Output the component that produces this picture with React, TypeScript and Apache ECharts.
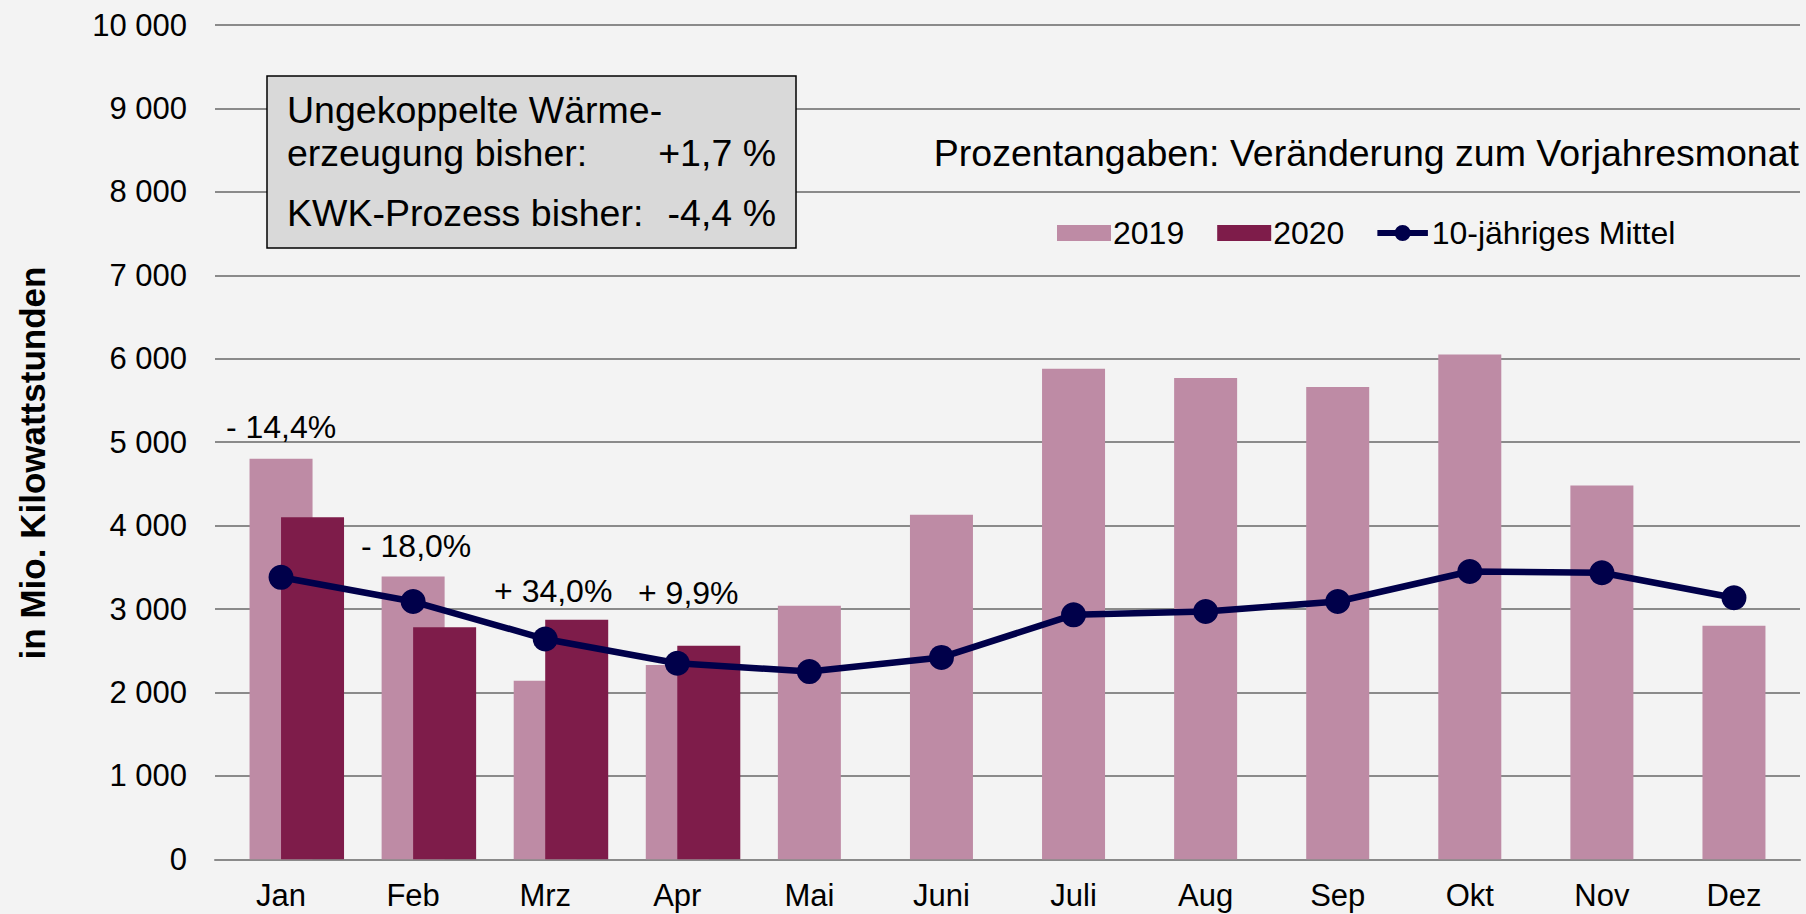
import React, { useEffect, useRef } from "react";
import * as echarts from "echarts";

const months = ["Jan", "Feb", "Mrz", "Apr", "Mai", "Juni", "Juli", "Aug", "Sep", "Okt", "Nov", "Dez"];
const values2019 = [4800, 3390, 2140, 2330, 3040, 4130, 5880, 5770, 5660, 6050, 4480, 2800];
const values2020 = [4100, 2780, 2870, 2560, null, null, null, null, null, null, null, null];
const tenYearMean = [3380, 3090, 2640, 2350, 2250, 2420, 2930, 2970, 3090, 3450, 3435, 3135];
const changeLabels = ["- 14,4%", "- 18,0%", "+ 34,0%", "+ 9,9%"];
const yTicks = { min: 0, max: 10000, interval: 1000 };

const FONT = "'Liberation Sans', Arial, Helvetica, sans-serif";
const C2019 = "#BE8BA5";
const C2020 = "#7E1C4A";
const CLINE = "#00004A";

const labelOffsets: number[][] = [[0, -16], [3, -14], [8, -74], [11, -56]];

const LINE_ICON =
  "path://M0,6 H60 V13 H0 Z M20.5,9.5 A9.5,9.5 0 1 1 39.5,9.5 A9.5,9.5 0 1 1 20.5,9.5 Z";

export default function App() {
  const ref = useRef<HTMLDivElement>(null);
  useEffect(() => {
    if (!ref.current) return;
    const chart = echarts.init(ref.current, null, { renderer: "svg" });
    const data2019 = values2019.map((v, i) =>
      i < changeLabels.length
        ? {
            value: v,
            label: {
              show: true,
              position: "top",
              distance: 0,
              formatter: changeLabels[i],
              offset: labelOffsets[i],
              fontSize: 32,
              fontFamily: FONT,
              color: "#000",
            },
          }
        : v
    );
    const boxFont = `37.5px ${FONT}`;
    chart.setOption({
      animation: false,
      backgroundColor: "#F3F3F3",
      textStyle: { fontFamily: FONT },
      grid: { left: 215, right: 6, top: 25, bottom: 54.7, containLabel: false },
      legend: {
        data: [
          { name: "2019", icon: "rect" },
          { name: "2020", icon: "rect" },
          { name: "10-jähriges Mittel", icon: LINE_ICON, itemStyle: { color: CLINE } },
        ],
        left: 1052,
        top: 212,
        itemWidth: 54,
        itemHeight: 16,
        itemGap: 33,
        textStyle: { fontSize: 32, color: "#000", fontFamily: FONT, padding: [0, 0, 0, -3] },
      },
      xAxis: {
        type: "category",
        data: months,
        axisTick: { show: false },
        axisLine: { show: true, lineStyle: { color: "#8A8A8A", width: 2 } },
        axisLabel: { fontSize: 31, lineHeight: 28, color: "#000", fontFamily: FONT, margin: 22 },
      },
      yAxis: {
        type: "value",
        min: yTicks.min,
        max: yTicks.max,
        interval: yTicks.interval,
        axisLine: { show: false },
        axisTick: { show: false },
        splitLine: { lineStyle: { color: "#8A8A8A", width: 2 } },
        axisLabel: {
          fontSize: 31,
          color: "#000",
          fontFamily: FONT,
          margin: 28,
          formatter: (v: number) => String(v).replace(/\B(?=(\d{3})+(?!\d))/g, " "),
        },
      },
      series: [
        { name: "_spacer", type: "bar", data: [], barWidth: 63, barGap: "-50%", silent: true },
        {
          name: "2019",
          type: "bar",
          data: data2019,
          barWidth: 63,
          barGap: "-50%",
          itemStyle: { color: C2019 },
        },
        {
          name: "2020",
          type: "bar",
          data: values2020,
          barWidth: 63,
          barGap: "-50%",
          itemStyle: { color: C2020 },
        },
        {
          name: "10-jähriges Mittel",
          type: "line",
          data: tenYearMean,
          symbol: "circle",
          symbolSize: 25,
          lineStyle: { color: CLINE, width: 6.5 },
          itemStyle: { color: CLINE },
          z: 5,
        },
      ],
      graphic: [
        {
          type: "rect",
          shape: { x: 267, y: 76, width: 529, height: 172 },
          style: { fill: "#D9D9D9", stroke: "#000", lineWidth: 1.5 },
          z: 10,
        },
        {
          type: "text",
          x: 287,
          y: 110,
          style: { text: "Ungekoppelte Wärme-", font: boxFont, fill: "#000", verticalAlign: "middle" },
          z: 11,
        },
        {
          type: "text",
          x: 287,
          y: 153,
          style: { text: "erzeugung bisher:", font: boxFont, fill: "#000", verticalAlign: "middle" },
          z: 11,
        },
        {
          type: "text",
          x: 776,
          y: 153,
          style: { text: "+1,7 %", font: boxFont, fill: "#000", align: "right", verticalAlign: "middle" },
          z: 11,
        },
        {
          type: "text",
          x: 287,
          y: 213,
          style: { text: "KWK-Prozess bisher:", font: boxFont, fill: "#000", verticalAlign: "middle" },
          z: 11,
        },
        {
          type: "text",
          x: 776,
          y: 213,
          style: { text: "-4,4 %", font: boxFont, fill: "#000", align: "right", verticalAlign: "middle" },
          z: 11,
        },
        {
          type: "text",
          x: 1799,
          y: 153,
          style: {
            text: "Prozentangaben: Veränderung zum Vorjahresmonat",
            font: boxFont,
            fill: "#000",
            align: "right",
            verticalAlign: "middle",
          },
          z: 11,
        },
        {
          type: "text",
          x: 32,
          y: 463,
          rotation: Math.PI / 2,
          style: {
            text: "in Mio. Kilowattstunden",
            font: `bold 35px ${FONT}`,
            fill: "#000",
            align: "center",
            verticalAlign: "middle",
          },
          z: 11,
        },
      ],
    });
    return () => chart.dispose();
  }, []);
  return (
    <div
      ref={ref}
      style={{ position: "absolute", left: 0, top: 0, width: 1806, height: 914 }}
    />
  );
}
